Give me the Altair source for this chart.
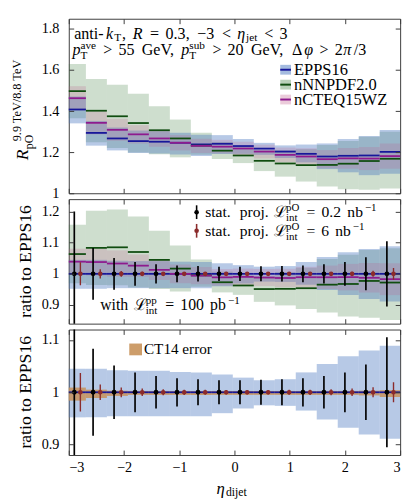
import altair as alt
import pandas as pd

SERIF = "Liberation Serif"

# ---------------- data ----------------
eta_edges = [-3.0, -2.69, -2.31, -1.93, -1.55, -1.17, -0.79, -0.41, -0.03,
             0.35, 0.73, 1.11, 1.49, 1.87, 2.25, 2.63, 3.0]
eta_stat_a = [-2.90, -2.56, -2.18, -1.80, -1.42, -1.04, -0.66, -0.28,
              0.10, 0.48, 0.86, 1.24, 1.62, 2.00, 2.38, 2.76]
eta_stat_b = [-2.79, -2.43, -2.05, -1.67, -1.29, -0.91, -0.53, -0.15,
              0.23, 0.61, 0.99, 1.37, 1.75, 2.13, 2.51, 2.88]

epps16 = [1.408, 1.294, 1.267, 1.254, 1.251, 1.246, 1.238, 1.241,
          1.230, 1.2175, 1.203, 1.192, 1.179, 1.1825, 1.184, 1.2016]
epps16_up = [0.045, 0.045, 0.042, 0.041, 0.041, 0.039, 0.038, 0.034,
             0.028, 0.023, 0.025, 0.038, 0.054, 0.069, 0.080, 0.089]
epps16_dn = [0.048, 0.048, 0.046, 0.046, 0.046, 0.046, 0.046, 0.040,
             0.031, 0.025, 0.026, 0.035, 0.052, 0.068, 0.081, 0.089]
nnpdf = [1.4975, 1.402, 1.375, 1.342, 1.307, 1.267, 1.232, 1.2075,
         1.184, 1.158, 1.145, 1.137, 1.138, 1.144, 1.157, 1.168]
nnpdf_lo = [1.365, 1.248, 1.221, 1.199, 1.190, 1.175, 1.187, 1.167,
            1.147, 1.108, 1.081, 1.057, 1.033, 1.020, 1.017, 1.023]
nnpdf_hi = [1.630, 1.556, 1.529, 1.485, 1.424, 1.359, 1.295, 1.250,
            1.225, 1.210, 1.210, 1.215, 1.235, 1.255, 1.275, 1.300]
ncteq = [1.463, 1.343, 1.309, 1.287, 1.267, 1.246, 1.231, 1.227,
         1.218, 1.203, 1.187, 1.179, 1.166, 1.170, 1.169, 1.181]
ncteq_err = [0.040, 0.042, 0.041, 0.035, 0.032, 0.030, 0.028, 0.027,
             0.027, 0.028, 0.030, 0.034, 0.038, 0.043, 0.048, 0.052]
ct14_up = [0.009, 0.005, 0.003, 0.0025, 0.0025, 0.0025, 0.0025, 0.0025,
           0.0025, 0.0025, 0.0025, 0.0025, 0.0025, 0.0025, 0.003, 0.004]
ct14_dn = [0.016, 0.011, 0.007, 0.005, 0.005, 0.005, 0.005, 0.005,
           0.005, 0.005, 0.005, 0.005, 0.005, 0.005, 0.006, 0.009]
stat_02 = [0.200, 0.083, 0.051, 0.038, 0.031, 0.027, 0.025, 0.023,
           0.023, 0.024, 0.025, 0.027, 0.031, 0.038, 0.053, 0.105]
stat_6 = [0.037, 0.015, 0.0093, 0.0070, 0.0057, 0.0050, 0.0046, 0.0042,
          0.0042, 0.0044, 0.0046, 0.0050, 0.0057, 0.0070, 0.0097, 0.019]

x_ticks = [-3, -2, -1, 0, 1, 2, 3]
y_ticks_top = [1, 1.2, 1.4, 1.6, 1.8]
y_ticks_mid = [0.9, 1, 1.1, 1.2]
y_ticks_bot = [0.9, 1, 1.1]
legend_names = ["EPPS16", "nNNPDF2.0", "nCTEQ15WZ"]

# ---------------- tables ----------------
n = len(epps16)
df = pd.DataFrame({
    "lo": eta_edges[:-1], "hi": eta_edges[1:],
    "ep": epps16, "ep_up": epps16_up, "ep_dn": epps16_dn,
    "nn": nnpdf, "nn_lo": nnpdf_lo, "nn_hi": nnpdf_hi,
    "ct": ncteq, "ct_e": ncteq_err,
    "c14u": ct14_up, "c14d": ct14_dn,
})
df["ep_lo"] = df.ep * (1 - df.ep_dn)
df["ep_hi"] = df.ep * (1 + df.ep_up)
df["ct_lo"] = df.ct * (1 - df.ct_e)
df["ct_hi"] = df.ct * (1 + df.ct_e)
df["one"] = 1.0
df["r_ep_lo"] = 1 - df.ep_dn
df["r_ep_hi"] = 1 + df.ep_up
df["r_nn"] = df.nn / df.ep
df["r_nn_lo"] = df.nn_lo / df.ep
df["r_nn_hi"] = df.nn_hi / df.ep
df["r_ct"] = df.ct / df.ep
df["r_ct_lo"] = df.ct_lo / df.ep
df["r_ct_hi"] = df.ct_hi / df.ep
df["c14_lo"] = 1 - df.c14d
df["c14_hi"] = 1 + df.c14u

pts = pd.DataFrame({
    "xa": eta_stat_a, "xb": eta_stat_b, "one": [1.0] * n,
    "a_lo": [1 - s for s in stat_02], "a_hi": [1 + s for s in stat_02],
    "b_lo": [1 - s for s in stat_6], "b_hi": [1 + s for s in stat_6],
})

# ---------------- styles ----------------
W = 338
H_TOP, H_MID, H_BOT = 178, 127, 128
FRAME = "#3c3c3c"
C_EP_BAND, C_NN_BAND, C_CT_BAND = "#4a78c0", "#3a7a3a", "#c05c8c"
O_EP, O_NN, O_CT = 0.40, 0.25, 0.22
C_EP, C_NN, C_CT = "#17179a", "#104d10", "#8e1a8e"
C_RED = "#8b2b2b"
C_CT14 = "#c8925a"

XS = alt.Scale(domain=[-3, 3], nice=False, zero=False)


def ys(dom):
    return alt.Scale(domain=dom, nice=False, zero=False)


def ax_lab_y(vals):
    return alt.Axis(orient="left", values=vals, format="~g", ticks=False,
                    labelPadding=10, labelFont=SERIF, labelFontSize=14.5,
                    labelColor="black", domain=False, grid=False, title=None)


def ax_lab_x():
    return alt.Axis(orient="bottom", values=x_ticks, format="~g", ticks=False,
                    labelPadding=5.5, labelFont=SERIF, labelFontSize=14.5,
                    labelColor="black", domain=False, grid=False, title=None)


def ax_in(orient, off, vals):
    return alt.Axis(orient=orient, offset=-off, values=vals, labels=False,
                    ticks=True, tickSize=5, tickColor=FRAME, tickWidth=1,
                    domain=False, grid=False, title=None, zindex=2)


# ---------------- rich text (TeX-like spacing) ----------------
CMW = {' ': .333, ',': .278, '-': .333, '.': .278, '/': .5, '<': .778,
       '=': .778, '>': .778, '−': .778, 'Δ': .833, 'ℒ': .69,
       'C': .722, 'E': .681, 'G': .785, 'O': .778, 'P': .681, 'S': .556,
       'T': .722, 'V': .75, 'a': .5, 'b': .556, 'd': .556, 'e': .444,
       'h': .556, 'i': .278, 'j': .306, 'n': .556, 'o': .5, 'p': .556,
       'r': .392, 's': .394, 't': .389, 'u': .556, 'v': .528, 'w': .722}
CMI = {'k': .521, 'R': .759, 'p': .503, 'η': .497, 'φ': .596, 'π': .570}
THICK, SPACE = 0.278, 0.333
EM = 16.35


def wcm(s, it=False):
    tab = CMI if it else CMW
    return sum(tab.get(c, .5) for c in s)


ONE = alt.Data(values=[{"a": 1}])


def T(text, x, y, size=16.5, style="normal", angle=0, align="left",
      baseline="alphabetic", color="black"):
    return alt.Chart(ONE).mark_text(
        text=text, font=SERIF, fontSize=size, fontStyle=style, angle=angle,
        align=align, baseline=baseline, color=color
    ).encode(x=alt.value(x), y=alt.value(y))


def R(s):
    return ("txt", s, 1.0, False, 0.0)


def I(s):
    return ("txt", s, 1.0, True, 0.0)


def SP(w):
    return ("sp", w)


def SUB(s):
    return ("txt", s, 0.7, False, 0.16)


def SUP(s):
    return ("txt", s, 0.7, False, -0.38)


def SS(sb, su):
    return ("ss", sb, su)


def REL(sym):
    return [SP(THICK), R(sym), SP(THICK)]


def rich(tokens, x0, y0, em=EM):
    out, x = [], x0
    for t in tokens:
        if t[0] == "sp":
            x += t[1] * em
            continue
        if t[0] == "ss":
            _, sb, su = t
            out.append(T(sb, x, y0 + 0.25 * em, 0.7 * em))
            out.append(T(su, x, y0 - 0.38 * em, 0.7 * em))
            x += max(wcm(sb), wcm(su)) * 0.7 * em
            continue
        _, s, f, it, dy = t
        w = wcm(s, it) * f * em
        out.append(T(s, x + w / 2, y0 + dy * em, f * em,
                     "italic" if it else "normal", align="center"))
        x += w
    return out


# ---------------- top panel ----------------
ysT = ys([1, 1.85])
base = alt.Chart(df)
top_layers = [
    base.mark_rect(color=C_NN_BAND, opacity=O_NN).encode(
        x=alt.X("lo:Q", scale=XS, axis=ax_in("top", H_TOP, x_ticks)), x2="hi:Q",
        y=alt.Y("nn_lo:Q", scale=ysT, axis=ax_lab_y(y_ticks_top)), y2="nn_hi:Q"),
    base.mark_rect(color=C_EP_BAND, opacity=O_EP).encode(
        x=alt.X("lo:Q", scale=XS, axis=ax_in("bottom", H_TOP, x_ticks)), x2="hi:Q",
        y=alt.Y("ep_lo:Q", scale=ysT, axis=ax_in("right", W, y_ticks_top)), y2="ep_hi:Q"),
    base.mark_rect(color=C_CT_BAND, opacity=O_CT).encode(
        x=alt.X("lo:Q", scale=XS, axis=None), x2="hi:Q",
        y=alt.Y("ct_lo:Q", scale=ysT, axis=ax_in("left", W, y_ticks_top)), y2="ct_hi:Q"),
]
for col, c in [("ep", C_EP), ("nn", C_NN), ("ct", C_CT)]:
    top_layers.append(base.mark_rule(color=c, strokeWidth=1.8).encode(
        x=alt.X("lo:Q", scale=XS, axis=None), x2="hi:Q",
        y=alt.Y(f"{col}:Q", scale=ysT, axis=None)))

# legend (top panel)
leg_band = [(C_EP_BAND, O_EP, C_EP), (C_NN_BAND, O_NN, C_NN), (C_CT_BAND, O_CT, C_CT)]
for i, (name, (bc, bo, lc)) in enumerate(zip(legend_names, leg_band)):
    cy = 52 + 15.2 * i
    top_layers.append(alt.Chart(ONE).mark_rect(color=bc, opacity=bo + 0.1).encode(
        x=alt.value(215.7), x2=alt.value(226.7), y=alt.value(cy - 5), y2=alt.value(cy + 5)))
    top_layers.append(alt.Chart(ONE).mark_rule(color=lc, strokeWidth=2).encode(
        x=alt.value(215.7), x2=alt.value(226.7), y=alt.value(cy)))
    top_layers.append(T(name, 229.7, cy + 5.5, 16.8))

line1 = ([R("anti-"), I("k"), SUB("T"), R(","), SP(SPACE), I("R")] + REL("=") +
         [R("0.3,"), SP(SPACE), R("−3")] + REL("<") + [I("η"), SUB("jet")] +
         REL("<") + [R("3")])
line2 = ([I("p"), SS("T", "ave")] + REL(">") + [R("55"), SP(SPACE), R("GeV,"),
         SP(SPACE), I("p"), SS("T", "sub")] + REL(">") +
         [R("20"), SP(SPACE), R("GeV,"), SP(SPACE), R("Δ"), I("φ")] + REL(">") +
         [R("2"), I("π"), R("/3")])
top_layers += rich(line1, 3.7, 20.3)
top_layers += rich(line2, 3.7, 36.8)
# y title of top panel (rotated)
top_layers.append(T("R", -41.3, 144.3, 18, "italic", angle=270))
top_layers.append(T("pO", -36.8, 133.0, 12, angle=270))
top_layers.append(T("9.9 TeV/8.8 TeV", -48.5, 125.0, 12.5, angle=270))

top = alt.layer(*top_layers).resolve_axis(x="independent", y="independent").properties(
    width=W, height=H_TOP)

# ---------------- middle panel ----------------
ysM = ys([0.84, 1.24])
mid_layers = [
    base.mark_rect(color=C_NN_BAND, opacity=O_NN).encode(
        x=alt.X("lo:Q", scale=XS, axis=ax_in("top", H_MID, x_ticks)), x2="hi:Q",
        y=alt.Y("r_nn_lo:Q", scale=ysM, axis=ax_lab_y(y_ticks_mid)), y2="r_nn_hi:Q"),
    base.mark_rect(color=C_EP_BAND, opacity=O_EP).encode(
        x=alt.X("lo:Q", scale=XS, axis=ax_in("bottom", H_MID, x_ticks)), x2="hi:Q",
        y=alt.Y("r_ep_lo:Q", scale=ysM, axis=ax_in("right", W, y_ticks_mid)), y2="r_ep_hi:Q"),
    base.mark_rect(color=C_CT_BAND, opacity=O_CT).encode(
        x=alt.X("lo:Q", scale=XS, axis=None), x2="hi:Q",
        y=alt.Y("r_ct_lo:Q", scale=ysM, axis=ax_in("left", W, y_ticks_mid)), y2="r_ct_hi:Q"),
]
for col, c in [("one", C_EP), ("r_nn", C_NN), ("r_ct", C_CT)]:
    mid_layers.append(base.mark_rule(color=c, strokeWidth=1.8).encode(
        x=alt.X("lo:Q", scale=XS, axis=None), x2="hi:Q",
        y=alt.Y(f"{col}:Q", scale=ysM, axis=None)))


def stat_layers(ysc):
    pb = alt.Chart(pts)
    return [
        pb.mark_rule(color="black", strokeWidth=1.7, clip=True).encode(
            x=alt.X("xa:Q", scale=XS, axis=None),
            y=alt.Y("a_lo:Q", scale=ysc, axis=None), y2="a_hi:Q"),
        pb.mark_circle(color="black", opacity=1, size=24, clip=True).encode(
            x=alt.X("xa:Q", scale=XS, axis=None), y=alt.Y("one:Q", scale=ysc, axis=None)),
        pb.mark_rule(color=C_RED, strokeWidth=1.4, clip=True).encode(
            x=alt.X("xb:Q", scale=XS, axis=None),
            y=alt.Y("b_lo:Q", scale=ysc, axis=None), y2="b_hi:Q"),
        pb.mark_circle(color=C_RED, opacity=1, size=22, clip=True).encode(
            x=alt.X("xb:Q", scale=XS, axis=None), y=alt.Y("one:Q", scale=ysc, axis=None)),
    ]


mid_layers += stat_layers(ysM)
# legend (middle panel)
for i, (c, val) in enumerate([("black", "0.2"), (C_RED, "6")]):
    cy = 13.3 + 19 * i
    mid_layers.append(alt.Chart(ONE).mark_rule(color=c, strokeWidth=1.6).encode(
        x=alt.value(130.4), y=alt.value(cy - 7), y2=alt.value(cy + 7)))
    mid_layers.append(alt.Chart(ONE).mark_circle(color=c, opacity=1, size=22).encode(
        x=alt.value(130.4), y=alt.value(cy)))
    toks = ([R("stat."), SP(SPACE), R("proj."), SP(SPACE), R("ℒ"), SS("int", "pO")] +
            REL("=") + [R(val), SP(SPACE), R("nb"), SUP("−1")])
    mid_layers += rich(toks, 136.7, cy + 5, em=15.9)
with_toks = ([R("with"), SP(SPACE), R("ℒ"), SS("int", "pp")] + REL("=") +
             [R("100"), SP(SPACE), R("pb"), SUP("−1")])
mid_layers += rich(with_toks, 30.7, 113.3, em=16.1)
mid_layers.append(T("ratio to EPPS16", -38.3, H_MID / 2, 18, angle=270, align="center"))

mid = alt.layer(*mid_layers).resolve_axis(x="independent", y="independent").properties(
    width=W, height=H_MID)

# ---------------- bottom panel ----------------
ysB = ys([0.88, 1.12])
bot_layers = [
    base.mark_rect(color=C_EP_BAND, opacity=O_EP).encode(
        x=alt.X("lo:Q", scale=XS, axis=ax_lab_x()), x2="hi:Q",
        y=alt.Y("r_ep_lo:Q", scale=ysB, axis=ax_lab_y(y_ticks_bot)), y2="r_ep_hi:Q"),
    base.mark_rect(color=C_CT14, opacity=0.85).encode(
        x=alt.X("lo:Q", scale=XS, axis=ax_in("top", H_BOT, x_ticks)), x2="hi:Q",
        y=alt.Y("c14_lo:Q", scale=ysB, axis=ax_in("right", W, y_ticks_bot)), y2="c14_hi:Q"),
    base.mark_rule(color=C_EP, strokeWidth=1.8).encode(
        x=alt.X("lo:Q", scale=XS, axis=ax_in("bottom", H_BOT, x_ticks)), x2="hi:Q",
        y=alt.Y("one:Q", scale=ysB, axis=ax_in("left", W, y_ticks_bot))),
]
bot_layers += stat_layers(ysB)
bot_layers.append(alt.Chart(ONE).mark_rect(color=C_CT14, opacity=0.9).encode(
    x=alt.value(61.7), x2=alt.value(74.7), y=alt.value(14.3), y2=alt.value(26.3)))
bot_layers.append(T("CT14 error", 76.7, 24.8, 15.5))
bot_layers.append(T("ratio to EPPS16", -38.3, H_BOT / 2, 18, angle=270, align="center"))
bot_layers += rich([I("η"), SUB("dijet")], 150.7, 167.3, em=17)

bot = alt.layer(*bot_layers).resolve_axis(x="independent", y="independent").properties(
    width=W, height=H_BOT)

chart = alt.vconcat(top, mid, bot, spacing=6, bounds="flush").properties(
    padding={"left": 3, "top": 5, "right": 5, "bottom": 0}
).configure_view(stroke=FRAME, strokeWidth=1).configure_axis(
    labelFont=SERIF, domain=False, grid=False)

chart.save("out.html", embed_options={"renderer": "svg", "actions": False})
